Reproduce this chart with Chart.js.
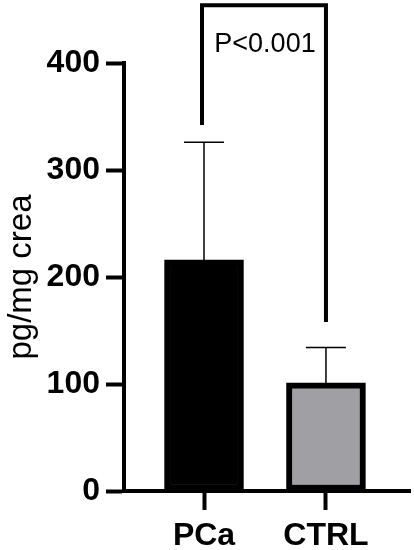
<!DOCTYPE html>
<html>
<head>
<meta charset="utf-8">
<script src="https://cdn.jsdelivr.net/npm/chart.js@4"></script>
<style>
  html, body { margin: 0; padding: 0; background: #fff; }
  canvas { display: block; }
</style>
</head>
<body>
<canvas id="myChart" width="414" height="550"></canvas>
<script>
// data
const categories = ['PCa', 'CTRL'];
const means = [216, 101];
const errTops = [326, 134];
const yTicks = [0, 100, 200, 300, 400];
const barColors = ['#000000', '#a0a0a4'];

// significance bracket (values in y units)
const bracketTop = 454;
const bracketEnds = [342, 158];
const pLabel = 'P<0.001';

const points = categories.map((c, i) => ({ x: i + 1, y: means[i] }));

const errorBars = {
  id: 'errorBars',
  afterDatasetsDraw(chart) {
    const ctx = chart.ctx;
    const y = chart.scales.y;
    const meta = chart.getDatasetMeta(0);
    ctx.save();
    ctx.strokeStyle = '#000';
    ctx.lineWidth = 1.5;
    meta.data.forEach((bar, i) => {
      const yTop = y.getPixelForValue(errTops[i]);
      const yBase = y.getPixelForValue(means[i]);
      ctx.beginPath();
      ctx.moveTo(bar.x, yBase);
      ctx.lineTo(bar.x, yTop);
      ctx.moveTo(bar.x - 20, yTop);
      ctx.lineTo(bar.x + 20, yTop);
      ctx.stroke();
    });
    ctx.restore();
  }
};

const bracket = {
  id: 'bracket',
  afterDraw(chart) {
    const ctx = chart.ctx;
    const y = chart.scales.y;
    const meta = chart.getDatasetMeta(0);
    const x1 = meta.data[0].x, x2 = meta.data[1].x;
    const yt = y.getPixelForValue(bracketTop);
    ctx.save();
    ctx.strokeStyle = '#000';
    ctx.lineWidth = 4;
    ctx.lineJoin = 'miter';
    ctx.beginPath();
    ctx.moveTo(x1 - 2, y.getPixelForValue(bracketEnds[0]));
    ctx.lineTo(x1 - 2, yt);
    ctx.lineTo(x2, yt);
    ctx.lineTo(x2, y.getPixelForValue(bracketEnds[1]));
    ctx.stroke();
    ctx.fillStyle = '#000';
    ctx.font = '27px "Liberation Sans", Arial, sans-serif';
    ctx.textAlign = 'center';
    ctx.textBaseline = 'middle';
    ctx.fillText(pLabel, (x1 + x2) / 2, y.getPixelForValue(417));
    ctx.restore();
  }
};

let ctx = document.getElementById('myChart').getContext('2d');
let myChart = new Chart(ctx, {
  type: 'bar',
  data: {
    datasets: [{
      data: points,
      backgroundColor: barColors,
      borderColor: '#000',
      borderWidth: 6,
      borderSkipped: false,
      barThickness: 79
    }]
  },
  options: {
    responsive: false,
    animation: false,
    devicePixelRatio: 1,
    layout: { padding: { top: 63, right: 4, bottom: 0, left: 0 } },
    plugins: { legend: { display: false }, tooltip: { enabled: false } },
    scales: {
      x: {
        type: 'linear',
        min: 0.344,
        max: 2.689,
        offset: false,
        bounds: 'data',
        afterBuildTicks: (s) => { s.ticks = categories.map((c, i) => ({ value: i + 1 })); },
        afterFit: (s) => { s.height = 59; },
        ticks: {
          callback: (v) => categories[v - 1],
          color: '#000',
          font: { family: '"Liberation Sans", Arial, sans-serif', size: 32, weight: 'bold' },
          padding: 7,
          maxRotation: 0,
          autoSkip: false
        },
        grid: { offset: false, drawOnChartArea: false, tickLength: 19, tickWidth: 4, tickColor: '#000' },
        border: { display: true, width: 4, color: '#000' }
      },
      y: {
        min: 0,
        max: 400,
        afterBuildTicks: (s) => { s.ticks = yTicks.map(v => ({ value: v })); },
        afterFit: (s) => { s.width = 124; },
        ticks: {
          color: '#000',
          font: { family: '"Liberation Sans", Arial, sans-serif', size: 32, weight: 'bold' },
          padding: 6
        },
        grid: { drawOnChartArea: false, tickLength: 18, tickWidth: 4, tickColor: '#000' },
        border: { display: true, width: 4, color: '#000' },
        title: {
          display: true,
          text: 'pg/mg crea',
          color: '#000',
          font: { family: '"Liberation Sans", Arial, sans-serif', size: 33 },
          padding: { top: 2, bottom: 0 }
        }
      }
    }
  },
  plugins: [errorBars, bracket]
});
</script>
</body>
</html>
